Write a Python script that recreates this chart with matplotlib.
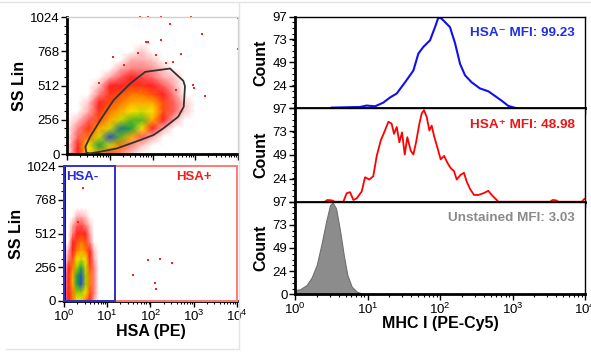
import matplotlib
matplotlib.use("Agg")
import matplotlib.pyplot as plt
import numpy as np
from matplotlib.colors import LinearSegmentedColormap
from matplotlib.ticker import FixedLocator, FixedFormatter, LogLocator, MultipleLocator, FuncFormatter, NullFormatter
from matplotlib.lines import Line2D
from matplotlib.patches import Polygon, Rectangle

plt.rcParams["font.family"] = ["Liberation Sans", "DejaVu Sans"]
plt.rcParams["mathtext.default"] = "regular"

# ---- top-left: SS Lin vs HSA (PE), all events (density levels 0..6) ----
tl_x = [1, 1.78, 3.16, 5.62, 10, 17.8, 31.6, 56.2, 100, 178, 316, 562, 1000]
tl_y = [0, 64, 128, 192, 256, 320, 384, 448, 512, 576, 640, 704, 768, 832]
tl_density = [
    [0, 1.0, 3.0, 2.5, 1.5, 0.5, 0.2, 0, 0, 0, 0, 0, 0],
    [0, 1.0, 3.0, 5.0, 3.5, 2.0, 0.5, 0.2, 0, 0, 0, 0, 0],
    [0, 0.7, 2.0, 3.5, 6.0, 4.5, 2.5, 0.7, 0.3, 0, 0, 0, 0],
    [0, 0.5, 1.2, 2.5, 3.5, 5.5, 5.0, 3.0, 1.0, 0.3, 0, 0, 0],
    [0, 0.2, 0.7, 1.5, 2.5, 3.5, 4.5, 4.5, 2.5, 1.0, 0.3, 0, 0],
    [0, 0, 0.3, 1.2, 2.0, 2.5, 3.0, 3.5, 3.0, 1.5, 0.7, 0.2, 0],
    [0, 0, 0.2, 1.0, 1.5, 2.0, 2.5, 2.5, 2.5, 1.5, 0.7, 0.2, 0],
    [0, 0, 0, 0.5, 1.2, 1.5, 2.0, 2.0, 1.5, 1.0, 0.5, 0, 0],
    [0, 0, 0, 0.2, 1.0, 1.0, 1.2, 1.2, 1.0, 0.7, 0.3, 0, 0],
    [0, 0, 0, 0, 0.3, 0.7, 1.0, 0.8, 0.6, 0.3, 0.2, 0, 0],
    [0, 0, 0, 0, 0, 0.3, 0.5, 0.5, 0.4, 0.2, 0, 0, 0],
    [0, 0, 0, 0, 0, 0, 0.3, 0.3, 0.2, 0, 0, 0, 0],
    [0, 0, 0, 0, 0, 0, 0, 0.2, 0, 0, 0, 0, 0],
    [0, 0, 0, 0, 0, 0, 0, 0, 0, 0, 0, 0, 0],
]
tl_stray_x = [51, 79, 158, 794, 257, 1413, 9800, 72, 162, 1660, 309, 891, 9800,
              77.6, 44.7, 120, 468, 11.7, 21.9, 209, 955, 5.75, 355]
tl_stray_y = [1024, 1024, 1024, 1024, 969, 895, 788, 837, 850, 432, 688, 515, 1020,
              839, 752, 740, 747, 727, 665, 678, 491, 528, 478]
gate_x = [2.82, 2.69, 3.47, 6.03, 12.3, 30.2, 67.6, 257, 525, 575, 537, 398, 178, 105, 51.3, 14.8, 6.03, 3.47]
gate_y = [10, 55, 129, 254, 403, 527, 614, 639, 547, 507, 353, 278, 191, 142, 104, 42, 17, 5]

# ---- bottom-left: gated events ----
bl_x = [1, 1.26, 1.58, 2.0, 2.51, 3.16, 3.98, 5.01, 6.31]
bl_y = [0, 64, 128, 192, 256, 320, 384, 448, 512, 576, 640, 704]
bl_density = [
    [0.5, 1.0, 2.0, 3.0, 3.0, 2.0, 1.0, 0.3, 0],
    [0.5, 1.0, 2.0, 4.0, 4.0, 3.0, 1.5, 0.5, 0],
    [0.3, 1.0, 2.5, 5.0, 6.0, 4.0, 2.0, 0.5, 0],
    [0.3, 1.0, 2.5, 5.0, 6.0, 4.0, 2.0, 0.5, 0],
    [0, 1.0, 2.0, 4.0, 5.0, 3.5, 1.5, 0.5, 0],
    [0, 0.5, 1.5, 3.0, 3.5, 3.0, 1.0, 0.3, 0],
    [0, 0.3, 1.0, 2.0, 2.5, 2.0, 1.0, 0.2, 0],
    [0, 0, 1.0, 1.5, 2.0, 1.5, 0.5, 0, 0],
    [0, 0, 0.5, 1.0, 1.2, 1.0, 0.3, 0, 0],
    [0, 0, 0.3, 0.7, 0.8, 0.5, 0.2, 0, 0],
    [0, 0, 0, 0.3, 0.3, 0.2, 0, 0, 0],
    [0, 0, 0, 0, 0, 0, 0, 0, 0],
]
bl_stray_x = [40, 89, 166, 309, 126, 135, 2.8, 2.1]
bl_stray_y = [197, 310, 318, 288, 137, 90, 857, 600]
hsa_split = 15.0

# ---- right: MHC I (PE-Cy5) histograms ----
neg_x = [3.2, 7.9, 9.7, 12.7, 16.5, 20.4, 25.3, 32.9, 42.9, 50.3, 58.9, 72.8, 85.3, 94.8,
         105, 137, 161, 189, 221, 273, 356, 464, 574, 709, 876, 1141]
neg_c = [0.7, 1.4, 2.9, 2.1, 6, 11.4, 15.7, 27.5, 40, 58, 65, 72, 86, 96,
         95, 86, 69, 47, 35, 27.5, 21, 18, 13, 8, 2.5, 0]
pos_x = [2.59, 2.79, 3.20, 3.56, 4.64, 5.16, 5.74, 6.38, 7.09, 8.31, 9.24, 10.6, 12.0, 13.4,
         15.2, 17.4, 19.4, 21.5, 23.2, 25.3, 27.5, 29.9, 32.6, 35.4, 39.4, 42.9, 46.7, 51.9,
         55.9, 60.1, 65.5, 71.3, 76.7, 83.5, 91.9, 102, 114, 126, 140, 156, 170, 193, 214,
         233, 259, 294, 338, 396, 464, 516, 574, 638, 3290, 3580, 3980, 4290, 8990, 9790]
pos_c = [0, 1.8, 1.4, 0, 0, 8.8, 9.9, 1.8, 3.5, 10.6, 25.4, 23, 26.5, 47.6,
         63.5, 74, 83, 81, 70.5, 77.6, 61.7, 72, 49, 67, 53, 49, 61.7, 81,
         91.7, 95, 88, 74, 79, 67, 56.4, 44, 47.6, 40.6, 35, 31.7, 23, 28, 30,
         21, 13.4, 7, 7, 8.8, 11.3, 7, 3.5, 0, 0, 1.8, 1.4, 0, 0, 2.8]
uns_x = [1.0, 1.17, 1.45, 1.70, 1.99, 2.33, 2.68, 3.04, 3.31, 3.68, 4.17, 4.74, 5.27, 6.05, 7.09, 8.75, 10.3]
uns_c = [4.5, 5.2, 9.8, 17.8, 30.7, 53.4, 76, 93.5, 96, 90, 67, 39.4, 20.2, 8, 2.8, 0.3, 0]
count_ticks = [0, 24, 49, 73, 97]

flow_cmap = LinearSegmentedColormap.from_list(
    "flow",
    [(0, "white"), (0.3 / 6, "#ffa8a8"), (1 / 6, "#ff2020"), (2 / 6, "#ff7800"),
     (3 / 6, "#ffe000"), (4 / 6, "#a0d000"), (5 / 6, "#20a040"), (1, "#2850c0")],
)


def log_axis(ax, labels=True, minor=True):
    ax.set_xscale("log")
    ax.set_xlim(1, 1e4)
    ax.xaxis.set_major_locator(FixedLocator([1, 10, 100, 1000, 10000]))
    if minor:
        ax.xaxis.set_minor_locator(LogLocator(base=10, subs=np.arange(2, 10), numticks=20))
    else:
        ax.xaxis.set_minor_locator(FixedLocator([]))
    ax.xaxis.set_minor_formatter(NullFormatter())
    if labels:
        ax.xaxis.set_major_formatter(FuncFormatter(lambda v, p: r"$10^{%d}$" % round(np.log10(v))))
    else:
        ax.xaxis.set_major_formatter(NullFormatter())


def style(ax, thin_color="black"):
    for s in ["left", "bottom"]:
        ax.spines[s].set_linewidth(2.0)
    for s in ["top", "right"]:
        ax.spines[s].set_linewidth(1.0)
        ax.spines[s].set_color(thin_color)
    ax.tick_params(which="major", length=4, width=1, labelsize=9.5, pad=1.5)
    ax.tick_params(which="minor", length=2.5, width=0.8)


fig = plt.figure(figsize=(5.91, 3.56), dpi=100)

# top-left dot plot
ax_tl = fig.add_axes([0.1134, 0.5674, 0.2893, 0.3848])
log_axis(ax_tl, labels=False)
ax_tl.pcolormesh(tl_x, tl_y, np.array(tl_density), shading="gouraud", cmap=flow_cmap, vmin=0, vmax=6)
ax_tl.scatter(tl_stray_x, tl_stray_y, s=2.5, color="#ff2020", marker="s", linewidths=0, clip_on=False)
ax_tl.add_patch(Polygon(list(zip(gate_x, gate_y)), closed=True, fill=False,
                        edgecolor="#333333", linewidth=1.3, zorder=5))
ax_tl.set_ylim(0, 1024)
ax_tl.yaxis.set_major_locator(FixedLocator([0, 256, 512, 768, 1024]))
ax_tl.yaxis.set_minor_locator(MultipleLocator(64))
ax_tl.set_ylabel("SS Lin", fontsize=11.5, fontweight="bold", labelpad=2)
style(ax_tl, thin_color="#d0d0d0")

# bottom-left dot plot with HSA gates
ax_bl = fig.add_axes([0.1083, 0.1545, 0.2927, 0.3792])
log_axis(ax_bl)
ax_bl.pcolormesh(bl_x, bl_y, np.array(bl_density), shading="gouraud", cmap=flow_cmap, vmin=0, vmax=6)
ax_bl.scatter(bl_stray_x, bl_stray_y, s=2.5, color="#ff2020", marker="s", linewidths=0)
ax_bl.add_patch(Rectangle((hsa_split, 0), 1e4 - hsa_split, 1024, fill=False,
                          edgecolor="#ff7a7a", linewidth=1.4, zorder=5, clip_on=False))
ax_bl.add_patch(Rectangle((1, 0), hsa_split - 1, 1024, fill=False,
                          edgecolor="#3030d0", linewidth=1.4, zorder=6, clip_on=False))
ax_bl.text(1.12, 985, "HSA-", color="#2a2ad8", fontsize=9.5, fontweight="bold", va="top")
ax_bl.text(2600, 985, "HSA+", color="#ee2020", fontsize=9.5, fontweight="bold", va="top", ha="right")
ax_bl.set_ylim(0, 1024)
ax_bl.yaxis.set_major_locator(FixedLocator([0, 256, 512, 768, 1024]))
ax_bl.yaxis.set_minor_locator(MultipleLocator(64))
ax_bl.set_ylabel("SS Lin", fontsize=11.5, fontweight="bold", labelpad=2)
ax_bl.set_xlabel("HSA (PE)", fontsize=11.5, fontweight="bold", labelpad=0)
style(ax_bl)
ax_bl.spines["top"].set_visible(False)
ax_bl.spines["right"].set_visible(False)

# right stacked histograms
panels = [(0.6958, 0.2573), (0.4334, 0.2624), (0.1733, 0.2601)]
series = [
    (neg_x, neg_c, "#1010ee", "HSA\u207b MFI: 99.23", "#2030e0"),
    (pos_x, pos_c, "#ff0000", "HSA\u207a MFI: 48.98", "#ee1515"),
    (uns_x, uns_c, None, "Unstained MFI: 3.03", "#8a8a8a"),
]
for i, ((b, h), (xs, cs, col, label, tcol)) in enumerate(zip(panels, series)):
    ax = fig.add_axes([0.4992, b, 0.4907, h])
    last = i == len(panels) - 1
    log_axis(ax, labels=last, minor=last)
    if col is None:
        ax.fill_between(xs, cs, 0, color="#8c8c8c", edgecolor="#707070", linewidth=0.8)
    else:
        ax.plot(xs, cs, color=col, linewidth=1.5 if i == 0 else 1.3)
    ax.set_ylim(0, 97)
    ax.yaxis.set_major_locator(FixedLocator(count_ticks))
    ax.yaxis.set_major_formatter(FixedFormatter([("" if (t == 0 and not last) else str(t)) for t in count_ticks]))
    ax.yaxis.set_minor_locator(MultipleLocator(97 / 16))
    ax.set_ylabel("Count", fontsize=11.5, fontweight="bold", labelpad=3)
    ax.text(0.965, 0.82, label, transform=ax.transAxes, ha="right", va="center",
            color=tcol, fontsize=9.7, fontweight="bold")
    style(ax)
    if last:
        ax.set_xlabel("MHC I (PE-Cy5)", fontsize=11.5, fontweight="bold", labelpad=-1)

# faint panel separators
fig.add_artist(Line2D([0, 1], [0.993, 0.993], color="#e4e4e4", linewidth=1))
fig.add_artist(Line2D([0.4045, 0.4045], [0.02, 0.993], color="#e4e4e4", linewidth=1))
fig.add_artist(Line2D([0.01, 0.4045], [0.02, 0.02], color="#e4e4e4", linewidth=1))

fig.savefig("out.png", dpi=100)
